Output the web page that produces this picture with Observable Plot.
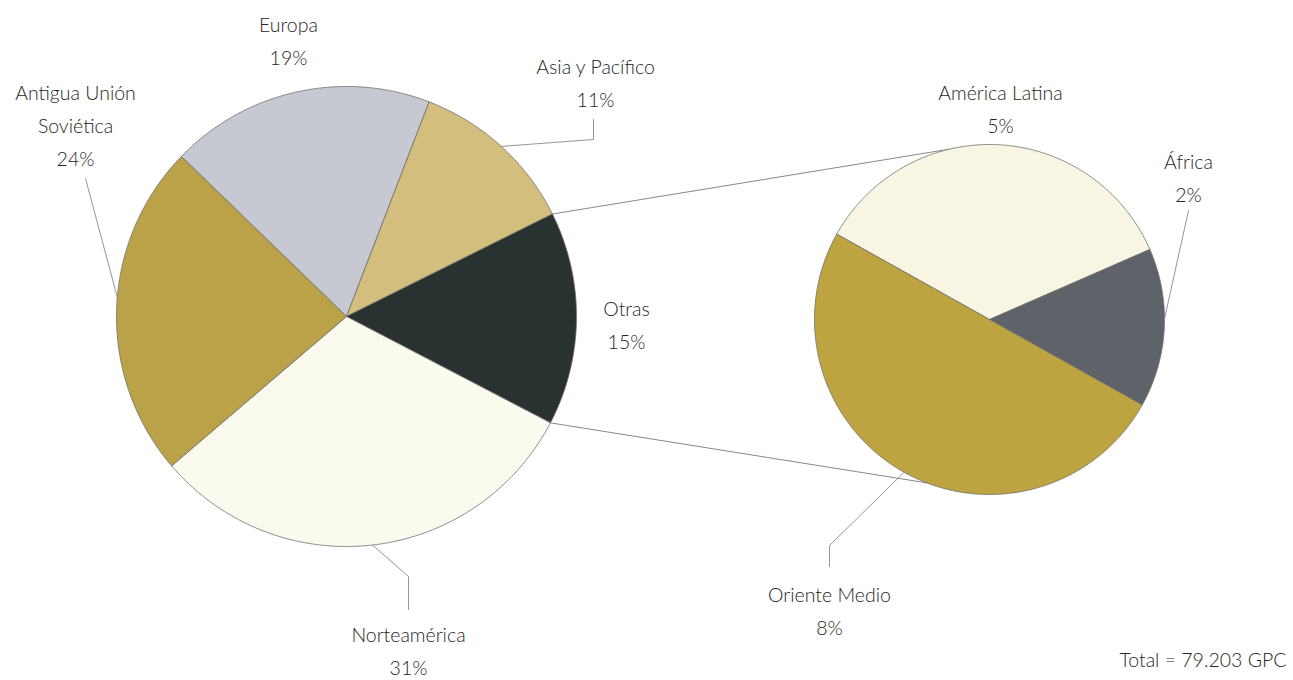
<!DOCTYPE html>
<html>
<head>
<meta charset="utf-8">
<script src="https://cdn.jsdelivr.net/npm/d3@7"></script>
<script src="https://cdn.jsdelivr.net/npm/@observablehq/plot@0.6"></script>
<style>
  html, body { margin: 0; padding: 0; background: #ffffff; }
  #chart svg { display: block; }
</style>
</head>
<body>
<div id="chart"></div>
<script>
// ---------- DATA ----------
const mainCategories = ["Europa", "Asia y Pacífico", "Otras", "Norteamérica", "Antigua Unión Soviética"];
const mainValues = [18.6, 11.8, 15.0, 31.1, 23.5];           // share of total (%)
const mainLabels = ["19%", "11%", "15%", "31%", "24%"];
const subCategories = ["América Latina", "África", "Oriente Medio"];
const subValues = [5.3, 2.2, 7.5];                              // breakdown of "Otras" (%)
const subLabels = ["5%", "2%", "8%"];
const totalNote = "Total = 79.203 GPC";

// ---------- STYLE / LAYOUT ----------
const mainColors = ["#c7c9d2", "#d3be7d", "#2a3131", "#fbfaef", "#bba249"];
const subColors = ["#f8f5e3", "#5d6368", "#bea441"];
const mainPie = {cx: 346, cy: 316, r: 230, start: -45.9};
const subPie = {cx: 989, cy: 319, r: 175, start: -60.8};
const mainNames = ["Europa", "Asia y Pacífico", "Otras", "Norteamérica", "Antigua Unión\nSoviética"];
const mainLabelPos = [[288, 37], [595, 79], [626, 321], [408, 647], [75, 122]];
const subLabelPos = [[1000, 105], [1188, 174], [829, 607]];
// leader: [x, yLabelSide, yElbow, angle shift (deg)] or null
const mainLeaders = [null, [593, 119, 139, 0], null, [408, 609, 576, 0], [85, 178, 178, 3]];
const subLeaders = [null, [1188, 210, 210, -3], [829, 566, 545, 0]];
const connectorAngles = [-13.3, 201];
const fontSize = 19.5;

// ---------- GEOMETRY ----------
const rad = d => d * Math.PI / 180;
function slices(values, pie) {
  const arcs = d3.pie().sort(null).value(d => d)
    .startAngle(rad(pie.start)).endAngle(rad(pie.start + 360))(values);
  return arcs.map((a, i) => {
    const pts = [{x: pie.cx, y: pie.cy, i}];
    const n = Math.max(2, Math.ceil((a.endAngle - a.startAngle) / rad(0.5)));
    for (let k = 0; k <= n; k++) {
      const t = a.startAngle + (a.endAngle - a.startAngle) * k / n;
      pts.push({x: pie.cx + pie.r * Math.sin(t), y: pie.cy - pie.r * Math.cos(t), i});
    }
    pts.push({x: pie.cx, y: pie.cy, i});
    const mid = (a.startAngle + a.endAngle) / 2;
    return {pts, start: a.startAngle, end: a.endAngle, mid};
  });
}
const pt = (pie, t) => ({x: pie.cx + pie.r * Math.sin(t), y: pie.cy - pie.r * Math.cos(t)});

const mainS = slices(mainValues, mainPie);
const subS = slices(subValues, subPie);

// connectors from "Otras" slice boundaries to the secondary pie
const otras = mainS[2];
const connectors = [
  [pt(mainPie, otras.start), pt(subPie, rad(connectorAngles[0]))],
  [pt(mainPie, otras.end), pt(subPie, rad(connectorAngles[1]))]
];

function leaderLines(sl, pie, leaders) {
  const out = [];
  leaders.forEach((L, i) => {
    if (!L) return;
    const e = pt(pie, sl[i].mid + rad(L[3]));
    out.push([{x: L[0], y: L[1]}, {x: L[0], y: L[2]}, e]);
  });
  return out;
}
const leaders = [...leaderLines(mainS, mainPie, mainLeaders), ...leaderLines(subS, subPie, subLeaders)];

const textData = [
  ...mainNames.map((n, i) => ({text: n + "\n" + mainLabels[i], x: mainLabelPos[i][0], y: mainLabelPos[i][1]})),
  ...subCategories.map((n, i) => ({text: n + "\n" + subLabels[i], x: subLabelPos[i][0], y: subLabelPos[i][1]}))
];

const sliceMarks = [
  ...mainS.map((s, i) => Plot.line(s.pts, {x: "x", y: "y", fill: mainColors[i], stroke: "#6f6f6f", strokeWidth: 0.8, strokeLinejoin: "round"})),
  ...subS.map((s, i) => Plot.line(s.pts, {x: "x", y: "y", fill: subColors[i], stroke: "#6f6f6f", strokeWidth: 0.8, strokeLinejoin: "round"}))
];

const chart = Plot.plot({
  width: 1293,
  height: 680,
  margin: 0,
  x: {domain: [0, 1293], range: [0, 1293], axis: null},
  y: {domain: [0, 680], range: [0, 680], axis: null},
  style: {fontFamily: "Lato, 'Open Sans', sans-serif", background: "#ffffff"},
  marks: [
    ...connectors.map(c => Plot.line(c, {x: "x", y: "y", stroke: "#7a7a7a", strokeWidth: 0.9})),
    ...sliceMarks,
    ...leaders.map(l => Plot.line(l, {x: "x", y: "y", stroke: "#8a8a8a", strokeWidth: 0.9})),
    Plot.text(textData, {x: "x", y: "y", text: "text", fontSize, fontWeight: 300, lineHeight: 1.7, fill: "#262626", textAnchor: "middle", lineAnchor: "middle"}),
    Plot.text([totalNote], {x: () => 1286, y: () => 660, text: d => d, fontSize, fontWeight: 300, fill: "#262626", textAnchor: "end", lineAnchor: "middle"})
  ]
});
document.getElementById("chart").appendChild(chart);
</script>
</body>
</html>
